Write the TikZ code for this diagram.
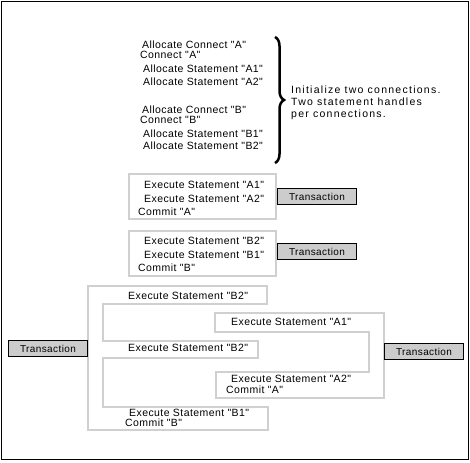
\documentclass[tikz,border=0pt]{standalone}
\usepackage{fontspec}
\setmainfont{Liberation Sans}
\newfontfamily\stmtfont[LetterSpace=4]{Liberation Sans}
\newfontfamily\notefont[LetterSpace=12]{Liberation Sans}
\usetikzlibrary{positioning}
\usetikzlibrary{decorations.pathreplacing}
\definecolor{threadgray}{RGB}{208,208,208}
\definecolor{txngray}{RGB}{204,204,204}

\begin{document}
\begin{tikzpicture}[x=1pt,y=-1pt,
        every node/.style={inner sep=0pt,anchor=west,font=\stmtfont\fontsize{10.5}{12}\selectfont},
        txn/.style={draw=black,fill=txngray,line width=1pt,minimum width=79pt,minimum height=16pt,anchor=north west,
            font=\stmtfont\fontsize{10}{12}\selectfont},
        thread/.style={draw=threadgray,line width=2.7pt}]

        \useasboundingbox (0,0) rectangle (470,462);
        \draw[line width=1.5pt] (1.5,1.5) rectangle (468.5,459.5);

        \node (allocA) at (142,45) {Allocate Connect "A"};
        \node (connA) at (140,55) {Connect "A"};
        \node (allocA1) at (143,69) {Allocate Statement "A1"};
        \node (allocA2) at (143,82) {Allocate Statement "A2"};
        \node (allocB) at (142,110) {Allocate Connect "B"};
        \node (connB) at (140,120) {Connect "B"};
        \node (allocB1) at (143,134) {Allocate Statement "B1"};
        \node (allocB2) at (143,146) {Allocate Statement "B2"};

        \coordinate (braceTop) at (275,37);
        \coordinate (braceBot) at (275,163);
        \draw[decorate,decoration={brace,amplitude=9pt},line width=2.5pt] (braceTop) -- (braceBot);
        \node[align=left,font=\notefont\fontsize{10.5}{12}\selectfont] (note) at (291,103) {Initialize two connections.\\Two statement handles\\per connections.};

        \draw[thread] (129,174) rectangle (276,219);
        \node (execA1) at (144,185) {Execute Statement "A1"};
        \node (execA2) at (144,199) {Execute Statement "A2"};
        \node (commitA) at (138,212) {Commit "A"};
        \node[txn] (txnA) at (277,188) {Transaction};

        \draw[thread] (129,231) rectangle (276,276);
        \node (execB2) at (144,241) {Execute Statement "B2"};
        \node (execB1) at (144,255) {Execute Statement "B1"};
        \node (commitB) at (138,268) {Commit "B"};
        \node[txn] (txnB) at (277,243) {Transaction};

        \draw[thread] (88,286) -- (267,286) -- (267,304) -- (103,304) -- (103,341) -- (258,341) -- (258,358)
            -- (103,358) -- (103,407) -- (268,407) -- (268,430) -- (88,430) -- cycle;
        \draw[thread] (215,313) -- (384,313) -- (384,398) -- (216,398) -- (216,372) -- (369,372) -- (369,332)
            -- (215,332) -- cycle;

        \node (mixB2a) at (128,296) {Execute Statement "B2"};
        \node (mixA1) at (231,322) {Execute Statement "A1"};
        \node (mixB2b) at (128,348) {Execute Statement "B2"};
        \node (mixA2) at (231,379) {Execute Statement "A2"};
        \node (mixCommitA) at (226,390) {Commit "A"};
        \node (mixB1) at (129,413) {Execute Statement "B1"};
        \node (mixCommitB) at (125,423) {Commit "B"};

        \node[txn] (txnLeft) at (8,340) {Transaction};
        \node[txn] (txnRight) at (384,343) {Transaction};

    \end{tikzpicture}
\end{document}
